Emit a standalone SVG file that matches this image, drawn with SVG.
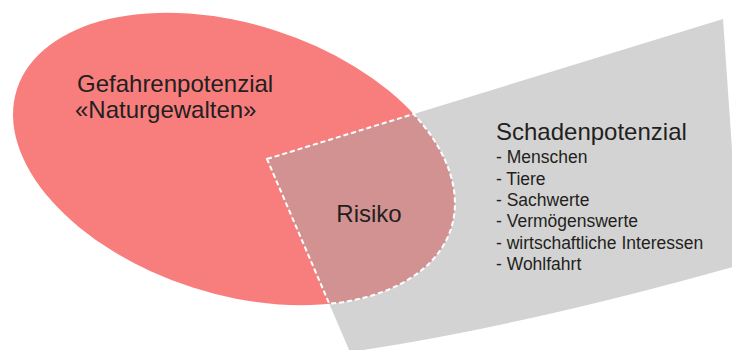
<svg xmlns="http://www.w3.org/2000/svg" width="732" height="350" viewBox="0 0 732 350">
  <style>
    .t { font-family: "Liberation Sans", Arial, sans-serif; fill: #231f20; }
    .big { font-size: 24px; }
    .item { font-size: 17.5px; }
    .dash { fill: #d39292; stroke: #ffffff; stroke-width: 2; stroke-dasharray: 5 3; }
  </style>
  <rect width="732" height="350" fill="#ffffff"/>
  <g id="gefahrenpotenzial">
    <ellipse cx="234" cy="159" rx="228" ry="135" transform="rotate(17.8 234 159)" fill="#f87e7e"/>
  </g>
  <g id="schadenpotenzial">
    <path d="M267 159 L723 19 L740 265 Q520 327 350 352 Z" fill="#d3d3d3"/>
  </g>
  <g id="risiko">
    <path class="dash" d="M267 159 L413.6 114 A228 135 17.8 0 1 329.3 303.8 Z"/>
    <text class="t big" x="369" y="222" text-anchor="middle">Risiko</text>
  </g>
  <g id="gefahr-text">
    <text class="t big" x="77" y="92">Gefahrenpotenzial</text>
    <text class="t big" x="75" y="118">«Naturgewalten»</text>
  </g>
  <g id="schaden-text">
    <text class="t big" x="496" y="140">Schadenpotenzial</text>
    <text class="t item" x="496" y="163">- Menschen</text>
    <text class="t item" x="496" y="184.5">- Tiere</text>
    <text class="t item" x="496" y="206">- Sachwerte</text>
    <text class="t item" x="496" y="227">- Vermögenswerte</text>
    <text class="t item" x="496" y="248.5">- wirtschaftliche Interessen</text>
    <text class="t item" x="496" y="270">- Wohlfahrt</text>
  </g>
</svg>
